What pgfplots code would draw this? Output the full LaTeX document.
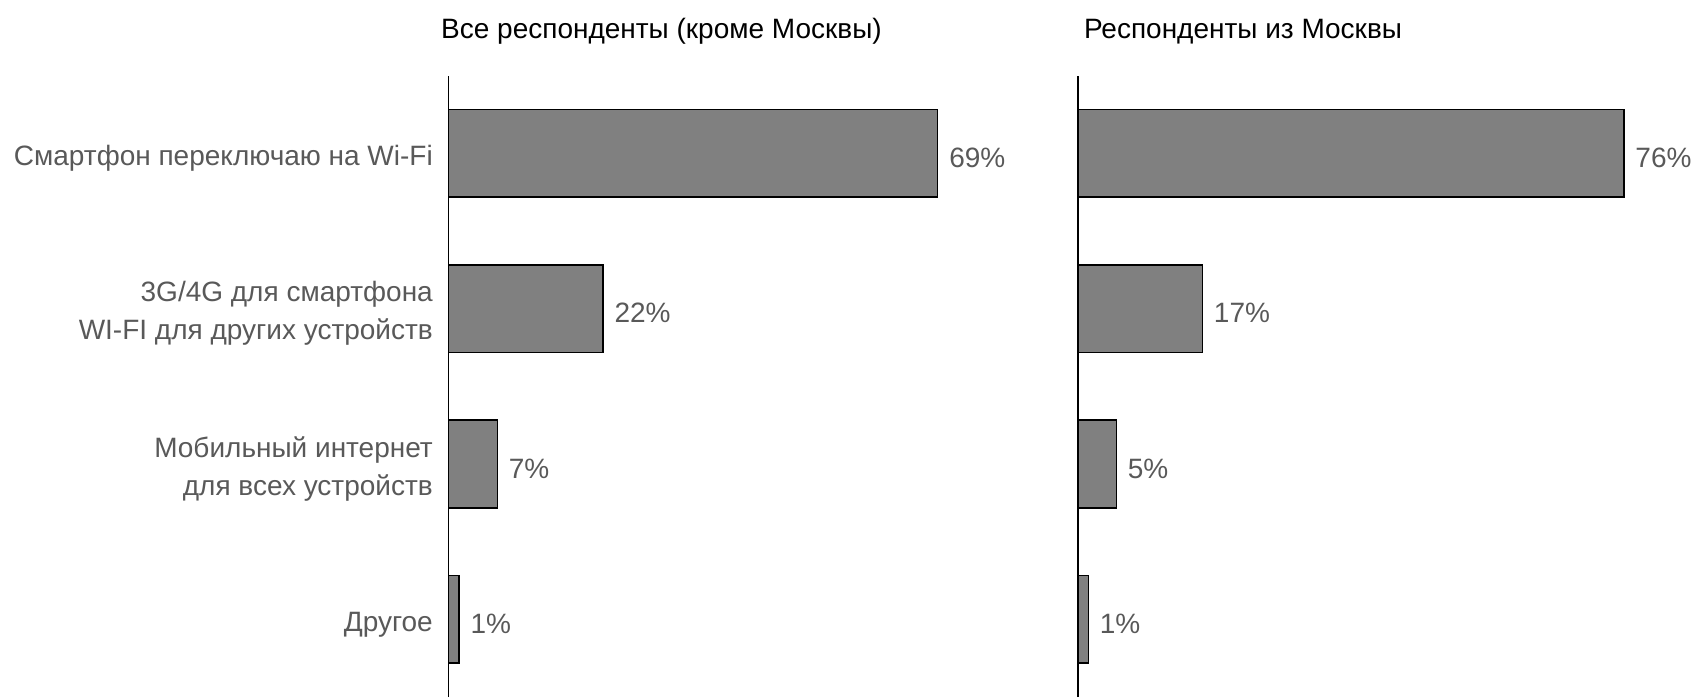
\documentclass[border=0pt]{standalone}
\usepackage{pgfplots}
\pgfplotsset{compat=1.18}
\usepackage{fontspec}
\setmainfont{Liberation Sans}
\definecolor{lbl}{HTML}{595959}
\definecolor{barfill}{HTML}{808080}
\pgfplotsset{
  myax/.style={
    scale only axis, width=#1, height=310.7pt,
    anchor=south west,
    xmin=0, xmax=100, ymin=-0.5, ymax=3.5,
    axis x line=none, axis y line=left,
    axis line style={-, black, line width=0.75pt},
    xbar, bar width=43.8pt, clip=false,
    major tick length=0pt, xtick=\empty,
    tick label style={inner sep=0pt},
    yticklabel style={font=\fontsize{14}{18.9}\selectfont, text=lbl, align=right, xshift=-7.6pt, yshift=-2.5pt},
    point meta=explicit symbolic,
    nodes near coords={\pgfplotspointmeta\%},
    nodes near coords style={anchor=west, inner sep=0pt, xshift=5.4pt, yshift=-2.3pt, font=\fontsize{14}{16}\selectfont, text=lbl},
  }
}
\begin{document}
\begin{tikzpicture}[x=1pt,y=1pt]
\path[use as bounding box] (0,0) rectangle (847,348.5);
\begin{axis}[myax=354.6pt, at={(224.2pt,0pt)},
  ytick={0,1,2,3},
  yticklabels={Другое, {Мобильный интернет\\для всех устройств }, {3G/4G для смартфона\\WI-FI для других устройств}, Смартфон переключаю на Wi-Fi}]
\addplot[fill=barfill, draw=black, line width=0.75pt] coordinates {(69,3) [69] (21.8,2) [22] (6.9,1) [7] (1.5,0) [1]};
\node[anchor=west, inner sep=0pt, font=\fontsize{14}{16}\selectfont, text=black] at (rel axis cs:0,1) [xshift=-3.8pt, yshift=22.2pt] {Все респонденты (кроме Москвы)};
\end{axis}
\begin{axis}[myax=359pt, at={(539.1pt,0pt)}, ytick=\empty]
\addplot[fill=barfill, draw=black, line width=0.75pt] coordinates {(76,3) [76] (17.3,2) [17] (5.3,1) [5] (1.4,0) [1]};
\node[anchor=west, inner sep=0pt, font=\fontsize{14}{16}\selectfont, text=black] at (rel axis cs:0,1) [xshift=2.7pt, yshift=22.2pt] {Респонденты из Москвы};
\end{axis}
\end{tikzpicture}
\end{document}
